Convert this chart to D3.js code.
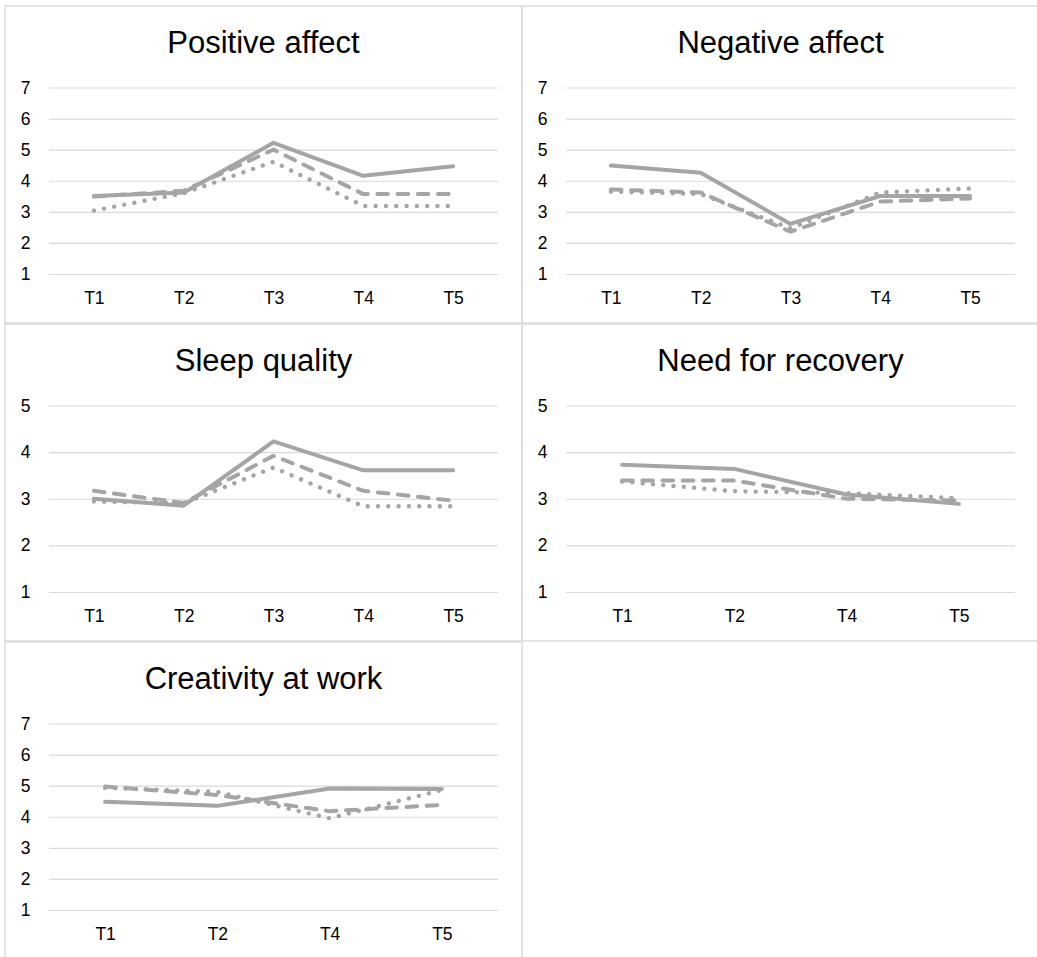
<!DOCTYPE html>
<html>
<head>
<meta charset="utf-8">
<script src="https://cdn.jsdelivr.net/npm/d3@7"></script>
<style>
  html, body { margin: 0; padding: 0; background: #fff; }
  svg { display: block; }
  text { font-family: "Liberation Sans", Arial, sans-serif; fill: #000; }
</style>
</head>
<body>
<svg id="chart" width="1037" height="957"></svg>
<script>
// Measurement occasions
const timesFull = ["T1", "T2", "T3", "T4", "T5"];
const timesShort = ["T1", "T2", "T4", "T5"];

// Panel titles
const titles = ["Positive affect", "Negative affect", "Sleep quality", "Need for recovery", "Creativity at work"];

// Y-axis tick labels
const ticks7 = [1, 2, 3, 4, 5, 6, 7];
const ticks5 = [1, 2, 3, 4, 5];

// Group A (solid), group B (dashed), group C (dotted)
const positiveA = [3.51, 3.62, 5.22, 4.16, 4.47];
const positiveB = [3.49, 3.68, 5.00, 3.57, 3.57];
const positiveC = [3.04, 3.60, 4.61, 3.19, 3.19];

const negativeA = [4.49, 4.26, 2.61, 3.51, 3.51];
const negativeB = [3.72, 3.62, 2.36, 3.33, 3.43];
const negativeC = [3.65, 3.57, 2.47, 3.62, 3.75];

const sleepA = [3.00, 2.85, 4.23, 3.61, 3.61];
const sleepB = [3.17, 2.91, 3.92, 3.17, 2.96];
const sleepC = [2.94, 2.90, 3.67, 2.84, 2.84];

const recoveryA = [3.73, 3.64, 3.09, 2.89];
const recoveryB = [3.39, 3.39, 3.00, 2.96];
const recoveryC = [3.37, 3.16, 3.12, 3.01];

const creativityA = [4.48, 4.35, 4.91, 4.89];
const creativityB = [4.97, 4.70, 4.18, 4.38];
const creativityC = [4.93, 4.80, 3.95, 4.86];

const panels = [
  { title: titles[0], times: timesFull,  ticks: ticks7, series: [positiveA, positiveB, positiveC] },
  { title: titles[1], times: timesFull,  ticks: ticks7, series: [negativeA, negativeB, negativeC] },
  { title: titles[2], times: timesFull,  ticks: ticks5, series: [sleepA, sleepB, sleepC] },
  { title: titles[3], times: timesShort, ticks: ticks5, series: [recoveryA, recoveryB, recoveryC] },
  { title: titles[4], times: timesShort, ticks: ticks7, series: [creativityA, creativityB, creativityC] }
];

// Line styles per group: solid, long dash, round dot
const lineStyles = [
  { dash: null,        cap: "round", width: 4.0 },
  { dash: "10.6,9.6",  cap: "round", width: 4.0 },
  { dash: "0.01,10.3", cap: "round", width: 4.4 }
];

const LINE_COLOR = "#A5A5A5";
const GRID_COLOR = "#D9D9D9";

const panelW = 517, panelH = 317;
const originX = 5, originY = 6, pitchY = 318;
const plot = { left: 44, right: 493, top: 81.5, bottom: 268 };

const svg = d3.select("#chart");

panels.forEach((p, i) => {
  const col = i % 2, row = Math.floor(i / 2);
  const g = svg.append("g")
    .attr("transform", `translate(${originX + col * panelW},${originY + row * pitchY})`);

  // Chart area border
  g.append("rect")
    .attr("x", 0).attr("y", 0)
    .attr("width", panelW).attr("height", panelH)
    .attr("fill", "none")
    .attr("stroke", GRID_COLOR)
    .attr("stroke-width", 1.4);

  const x = d3.scalePoint()
    .domain(p.times)
    .range([plot.left, plot.right])
    .padding(0.5);

  const y = d3.scaleLinear()
    .domain([1, d3.max(p.ticks)])
    .range([plot.bottom, plot.top]);

  // Horizontal gridlines with value labels
  const yAxis = g.append("g")
    .attr("transform", `translate(${plot.left},0)`)
    .call(d3.axisLeft(y)
      .tickValues(p.ticks)
      .tickFormat(d3.format("d"))
      .tickSize(-(plot.right - plot.left))
      .tickPadding(18.5));
  yAxis.select(".domain").remove();
  yAxis.selectAll(".tick line")
    .attr("stroke", GRID_COLOR)
    .attr("stroke-width", 1.2);
  yAxis.selectAll(".tick text")
    .attr("font-size", 17.5)
    .attr("font-family", "'Liberation Sans', Arial, sans-serif")
    .attr("fill", "#000");

  // Category labels
  const xAxis = g.append("g")
    .attr("transform", `translate(0,${plot.bottom})`)
    .call(d3.axisBottom(x).tickSize(0).tickPadding(17.6));
  xAxis.select(".domain").remove();
  xAxis.selectAll(".tick text")
    .attr("font-size", 17.5)
    .attr("font-family", "'Liberation Sans', Arial, sans-serif")
    .attr("fill", "#000");

  // Title
  g.append("text")
    .attr("x", panelW / 2)
    .attr("y", 46.5)
    .attr("text-anchor", "middle")
    .attr("font-size", 31)
    .text(p.title);

  const line = d3.line()
    .x((d, k) => x(p.times[k]))
    .y(d => y(d));

  // Draw dotted first, solid on top
  [2, 1, 0].forEach(s => {
    const st = lineStyles[s];
    g.append("path")
      .datum(p.series[s])
      .attr("d", line)
      .attr("fill", "none")
      .attr("stroke", LINE_COLOR)
      .attr("stroke-width", st.width)
      .attr("stroke-linecap", st.cap)
      .attr("stroke-linejoin", "round")
      .attr("stroke-dasharray", st.dash);
  });
});
</script>
</body>
</html>
